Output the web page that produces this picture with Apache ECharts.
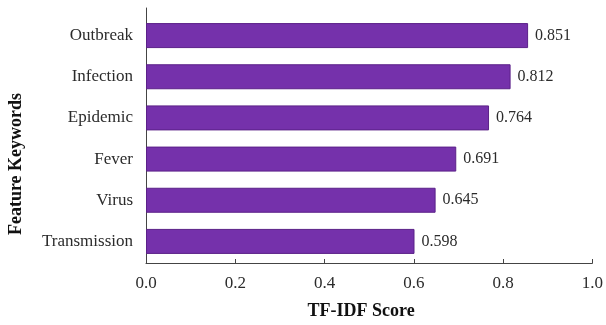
<!DOCTYPE html>
<html>
<head>
<meta charset="utf-8">
<script src="https://cdn.jsdelivr.net/npm/echarts@6/dist/echarts.min.js"></script>
<style>
  html, body { margin: 0; padding: 0; background: #fff; }
  #chart { width: 606px; height: 325px; }
</style>
</head>
<body>
<div id="chart"></div>
<script>
// Keywords listed top to bottom, with their TF-IDF scores
const keywords = ['Outbreak', 'Infection', 'Epidemic', 'Fever', 'Virus', 'Transmission'];
const scores = [0.851, 0.812, 0.764, 0.691, 0.645, 0.598];
const xTicks = [0, 0.2, 0.4, 0.6, 0.8, 1.0];

const serif = "'Liberation Serif', 'Times New Roman', serif";
const ink = '#2b2b2b';

const chart = echarts.init(document.getElementById('chart'), null, { renderer: 'canvas' });

chart.setOption({
  animation: false,
  backgroundColor: '#fff',
  grid: [
    // bars
    { left: 146, right: 11, top: 15, bottom: 63 },
    // frame axes (x axis line, ticks and the taller y axis line)
    { left: 146, right: 11, top: 8, bottom: 57 }
  ],
  xAxis: [
    {
      gridIndex: 0, type: 'value', min: 0, max: 1,
      show: false
    },
    {
      gridIndex: 1, type: 'value', min: xTicks[0], max: xTicks[xTicks.length - 1], interval: 0.2,
      axisLine: { show: true, lineStyle: { color: '#444', width: 1 } },
      axisTick: { show: true, inside: true, length: 4, lineStyle: { color: '#444' } },
      splitLine: { show: false },
      axisLabel: {
        margin: 12, fontFamily: serif, fontSize: 17, color: ink,
        formatter: v => v.toFixed(1)
      },
      name: 'TF-IDF Score',
      nameLocation: 'middle',
      nameGap: 39,
      nameTextStyle: {
        fontFamily: serif, fontSize: 18, fontWeight: 'bold', color: '#111',
        padding: [0, 16, 0, 0]
      }
    }
  ],
  yAxis: [
    {
      gridIndex: 0, type: 'category', data: keywords, inverse: true,
      axisLine: { show: false },
      axisTick: { show: false },
      axisLabel: { margin: 13, fontFamily: serif, fontSize: 17, color: ink }
    },
    {
      gridIndex: 1, type: 'value', min: 0, max: 1,
      axisLine: { show: true, lineStyle: { color: '#444', width: 1 } },
      axisTick: { show: false },
      axisLabel: { show: false },
      splitLine: { show: false }
    }
  ],
  graphic: [
    {
      type: 'text',
      x: 16, y: 164,
      rotation: Math.PI / 2,
      style: {
        text: 'Feature Keywords',
        fill: '#111',
        font: "bold 18px 'Liberation Serif', 'Times New Roman', serif",
        align: 'center',
        verticalAlign: 'middle'
      }
    }
  ],
  series: [
    {
      type: 'bar',
      xAxisIndex: 0,
      yAxisIndex: 0,
      data: scores,
      barWidth: 25,
      itemStyle: {
        color: '#7531ab',
        borderColor: '#5b2088',
        borderWidth: 1
      },
      label: {
        show: true,
        position: 'right',
        distance: 7,
        fontFamily: serif,
        fontSize: 16,
        color: ink,
        formatter: p => p.value.toFixed(3)
      }
    }
  ]
});
</script>
</body>
</html>
